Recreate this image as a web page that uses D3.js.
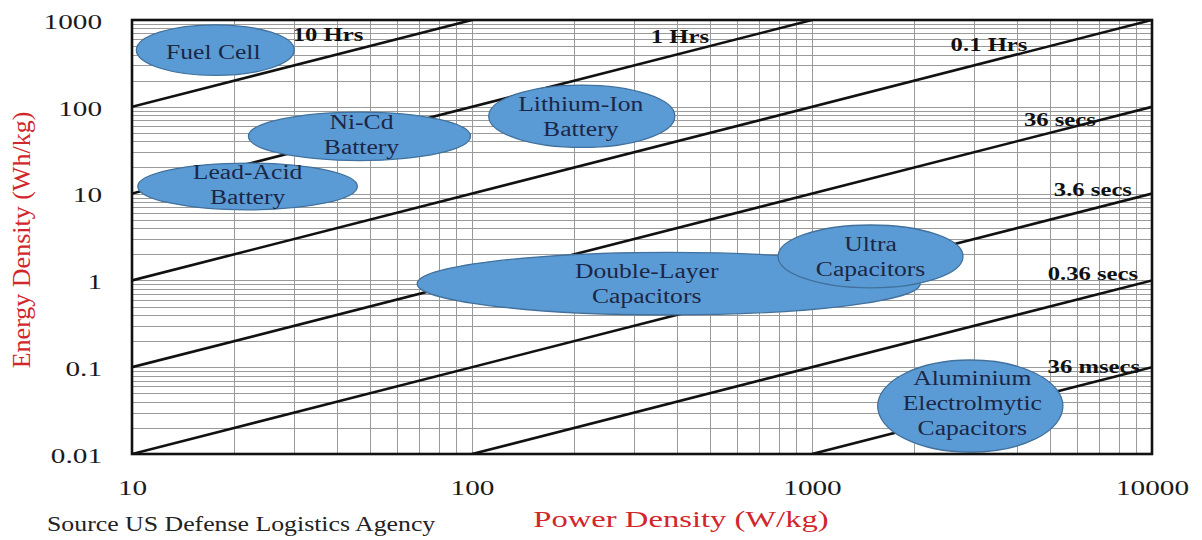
<!DOCTYPE html>
<html>
<head>
<meta charset="utf-8">
<script src="https://cdn.jsdelivr.net/npm/d3@7"></script>
<style>
  html, body { margin: 0; padding: 0; background: #fff; }
  svg { display: block; }
</style>
</head>
<body>
<svg id="chart" width="1202" height="540"></svg>
<script>
// ---------------- DATA ----------------
const powerTicks = [10, 100, 1000, 10000];
const energyTicks = [0.01, 0.1, 1, 10, 100, 1000];
const powerTickLabels = ["10", "100", "1000", "10000"];
const energyTickLabels = ["0.01", "0.1", "1", "10", "100", "1000"];

// constant discharge-time lines: energy = hours * power
const timeLabels = ["10 Hrs", "1 Hrs", "0.1 Hrs", "36 secs", "3.6 secs", "0.36 secs", "36 msecs"];
const timeHours  = [10, 1, 0.1, 0.01, 0.001, 0.0001, 0.00001];
// label anchor (power, energy) for each time line
const timeLabelPower  = [37.7, 409, 3316, 5358, 6700, 6700, 6745];
const timeLabelEnergy = [672, 637, 515, 70.5, 11, 1.19, 0.103];

// technology regions (ranges in W/kg and Wh/kg)
const techNames = [
  ["Fuel Cell"],
  ["Ni-Cd", "Battery"],
  ["Lead-Acid", "Battery"],
  ["Lithium-Ion", "Battery"],
  ["Double-Layer", "Capacitors"],
  ["Ultra", "Capacitors"],
  ["Aluminium", "Electrolmytic", "Capacitors"]
];
const techPowerMin  = [10.3, 22, 10.4, 112, 69, 795, 1560];
const techPowerMax  = [30, 99, 46, 395, 2080, 2780, 5470];
const techEnergyMin = [230, 24, 6.5, 34, 0.4, 0.82, 0.0105];
const techEnergyMax = [880, 87, 22.5, 178, 2.1, 4.35, 0.121];

const xTitle = "Power Density (W/kg)";
const yTitle = "Energy Density (Wh/kg)";
const sourceText = "Source US Defense Logistics Agency";

// ---------------- LAYOUT / STYLE ----------------
const plot = { left: 132, right: 1152, top: 20, bottom: 454 };
const serif = "'Liberation Serif', 'Times New Roman', serif";
const techLabelShift = [[-2, 2], [2, -1], [0, -1], [-1, 1], [-22, 0], [0, 1], [2, -3]];

const svg = d3.select("#chart");
svg.append("rect").attr("width", 1202).attr("height", 540).attr("fill", "#fff");

const x = d3.scaleLog().domain([10, 10000]).range([plot.left, plot.right]);
const y = d3.scaleLog().domain([0.01, 1000]).range([plot.bottom, plot.top]);

// minor/major grid values
function logGrid(lo, hi) {
  const out = [];
  for (let d = lo; d < hi; d *= 10) for (let k = 1; k <= 9; k++) out.push(d * k);
  out.push(hi);
  return out;
}
const gx = logGrid(10, 10000);
const gy = logGrid(0.01, 1000);

const grid = svg.append("g").attr("stroke", "#9a9a9a").attr("stroke-width", 1.1).attr("shape-rendering", "crispEdges");
grid.selectAll("line.v").data(gx).join("line").attr("class", "v")
  .attr("x1", d => Math.round(x(d)) + 0.5).attr("x2", d => Math.round(x(d)) + 0.5)
  .attr("y1", plot.top).attr("y2", plot.bottom);
grid.selectAll("line.h").data(gy).join("line").attr("class", "h")
  .attr("y1", d => Math.round(y(d)) + 0.5).attr("y2", d => Math.round(y(d)) + 0.5)
  .attr("x1", plot.left).attr("x2", plot.right);

// text helper with horizontal stretch
function addText(g, str, px, py, o) {
  const t = g.append("text")
    .attr("transform", `translate(${px},${py}) scale(${o.sx || 1},1)`)
    .attr("text-anchor", o.anchor || "middle")
    .attr("dominant-baseline", o.baseline || "central")
    .attr("font-family", serif)
    .attr("font-size", o.size)
    .attr("font-weight", o.weight || "normal")
    .attr("fill", o.fill || "#111")
    .text(str);
  return t;
}

// technology ellipses
const techData = techNames.map((n, i) => ({
  lines: n,
  p0: techPowerMin[i], p1: techPowerMax[i],
  e0: techEnergyMin[i], e1: techEnergyMax[i],
  shift: techLabelShift[i]
}));

const clip = svg.append("clipPath").attr("id", "plotclip").append("rect")
  .attr("x", plot.left).attr("y", plot.top)
  .attr("width", plot.right - plot.left).attr("height", plot.bottom - plot.top);

// time lines
const lineG = svg.append("g").attr("clip-path", "url(#plotclip)");
timeHours.forEach(h => {
  const pStart = Math.max(10, 0.01 / h), pEnd = Math.min(10000, 1000 / h);
  lineG.append("line")
    .attr("x1", x(pStart)).attr("y1", y(pStart * h))
    .attr("x2", x(pEnd)).attr("y2", y(pEnd * h))
    .attr("stroke", "#111").attr("stroke-width", 2.6);
});

const ellG = svg.append("g");
techData.forEach(d => {
  const cx = (x(d.p0) + x(d.p1)) / 2, cy = (y(d.e0) + y(d.e1)) / 2;
  ellG.append("ellipse")
    .attr("cx", cx).attr("cy", cy)
    .attr("rx", (x(d.p1) - x(d.p0)) / 2).attr("ry", (y(d.e0) - y(d.e1)) / 2)
    .attr("fill", "#5b9bd5").attr("stroke", "#41719c").attr("stroke-width", 1.3);
});
techData.forEach(d => {
  const cx = (x(d.p0) + x(d.p1)) / 2 + d.shift[0], cy = (y(d.e0) + y(d.e1)) / 2 + d.shift[1];
  const n = d.lines.length, lh = 25;
  d.lines.forEach((s, j) => {
    addText(ellG, s, cx, cy + (j - (n - 1) / 2) * lh, { size: 20, sx: 1.28, fill: "#1b2746" });
  });
});

// time labels
const tl = svg.append("g");
timeLabels.forEach((s, i) => {
  addText(tl, s, x(timeLabelPower[i]), y(timeLabelEnergy[i]), { size: 19, sx: 1.3, weight: "bold", fill: "#111" });
});

// plot frame
svg.append("rect")
  .attr("x", plot.left).attr("y", plot.top)
  .attr("width", plot.right - plot.left).attr("height", plot.bottom - plot.top)
  .attr("fill", "none").attr("stroke", "#111").attr("stroke-width", 2.6);

// axes (tick labels only, via d3 axis)
const xAxis = d3.axisBottom(x).tickValues(powerTicks).tickFormat((d, i) => powerTickLabels[i]).tickSize(0);
const xa = svg.append("g").attr("transform", `translate(0,${plot.bottom})`).call(xAxis);
xa.select(".domain").remove();
xa.selectAll("text")
  .attr("font-family", serif).attr("font-size", 22).attr("fill", "#1a1a1a")
  .attr("dy", null).attr("y", 0)
  .attr("dominant-baseline", "central")
  .attr("transform", function(d) { return `translate(0,34) scale(1.33,1) translate(${-x(d) + x(d) / 1.33},0)`; });
xa.selectAll(".tick").each(function(d) {
  // position handled by tick transform; reset text so scaling is around tick
  const t = d3.select(this).select("text");
  t.attr("transform", "translate(0,34) scale(1.33,1)").attr("x", 0);
});

const yAxis = d3.axisLeft(y).tickValues(energyTicks).tickFormat((d, i) => energyTickLabels[i]).tickSize(0);
const ya = svg.append("g").attr("transform", `translate(${plot.left},0)`).call(yAxis);
ya.select(".domain").remove();
ya.selectAll(".tick text")
  .attr("font-family", serif).attr("font-size", 22).attr("fill", "#1a1a1a")
  .attr("dy", null).attr("x", 0).attr("text-anchor", "end")
  .attr("dominant-baseline", "central")
  .attr("transform", "translate(-30,1) scale(1.33,1)");

// axis titles
addText(svg, xTitle, 681, 519, { size: 24, sx: 1.36, fill: "#d1262b" });
svg.append("text")
  .attr("transform", "translate(21,240) rotate(-90)")
  .attr("text-anchor", "middle").attr("dominant-baseline", "central")
  .attr("font-family", serif).attr("font-size", 26).attr("fill", "#d1262b")
  .text(yTitle);

addText(svg, sourceText, 47, 524, { size: 20, sx: 1.29, anchor: "start", fill: "#222" });
</script>
</body>
</html>
